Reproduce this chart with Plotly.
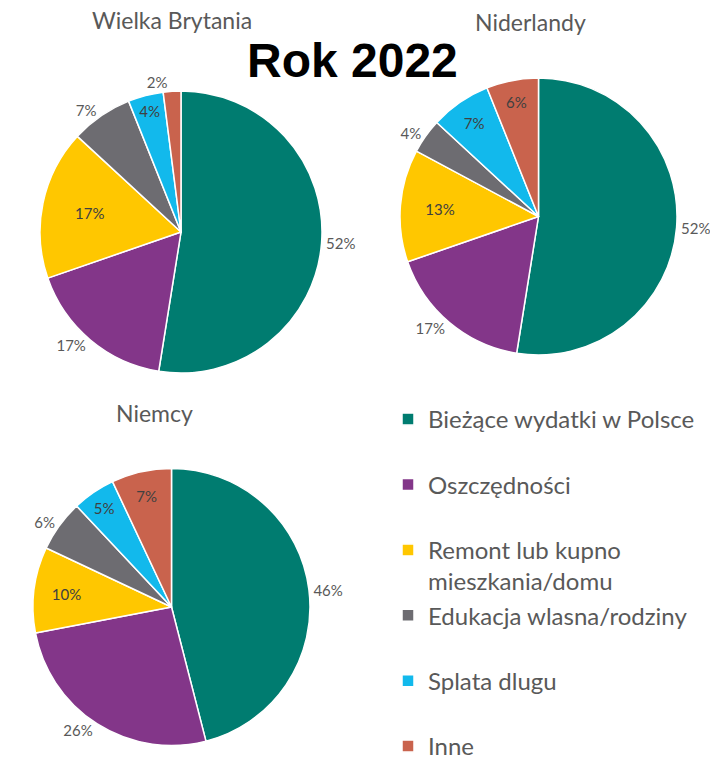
import plotly.graph_objects as go

categories = [
    "Bieżące wydatki w Polsce",
    "Oszczędności",
    "Remont lub kupno<br>mieszkania/domu",
    "Edukacja wlasna/rodziny",
    "Splata dlugu",
    "Inne",
]
colors = ["#007C70", "#833689", "#FFC700", "#6D6C71", "#12B9EC", "#C9634D"]

countries = ["Wielka Brytania", "Niderlandy", "Niemcy"]
values_wb = [52, 17, 17, 7, 4, 2]
values_nl = [52, 17, 13, 4, 7, 6]
values_de = [46, 26, 10, 6, 5, 7]

pos_wb = ["outside", "outside", "inside", "outside", "inside", "outside"]
pos_nl = ["outside", "outside", "inside", "outside", "inside", "inside"]
pos_de = ["outside", "outside", "inside", "outside", "inside", "inside"]

# legend labels: add blank line for spacing (except multi-line and last)
legend_labels = []
for i, c in enumerate(categories):
    if "<br>" in c or i == len(categories) - 1:
        legend_labels.append(c)
    else:
        legend_labels.append(c + "<br>\u00a0")

# domains in pixels (x0, x1, ytop, ybottom)
W, H = 710, 760
domains = [
    (40, 322, 91, 373),
    (400, 677, 78, 355),
    (33, 310, 468, 746),
]
title_pos = [(172, 20), (530, 22), (154, 413)]

fig = go.Figure()
for k, (vals, pos) in enumerate([(values_wb, pos_wb), (values_nl, pos_nl), (values_de, pos_de)]):
    x0, x1, yt, yb = domains[k]
    fig.add_trace(go.Pie(
        labels=legend_labels,
        values=vals,
        text=[f"{v}%" for v in vals],
        textinfo="text",
        textposition=pos,
        insidetextorientation="horizontal",
        sort=False,
        direction="clockwise",
        rotation=0,
        marker=dict(colors=colors, line=dict(color="white", width=1.5)),
        insidetextfont=dict(family="Lato", size=15, color="#404040"),
        outsidetextfont=dict(family="Lato", size=15, color="#595959"),
        domain=dict(x=[x0 / W, x1 / W], y=[1 - yb / H, 1 - yt / H]),
        showlegend=(k == 0),
        name=countries[k],
    ))
    tx, ty = title_pos[k]
    fig.add_annotation(
        x=tx / W, y=1 - ty / H, xref="paper", yref="paper",
        text=countries[k], showarrow=False,
        font=dict(family="Lato", size=23, color="#595959"),
        xanchor="center", yanchor="middle",
    )

fig.add_annotation(
    x=352 / W, y=1 - 60 / H, xref="paper", yref="paper",
    text="<b>Rok 2022</b>", showarrow=False,
    font=dict(family="Liberation Sans", size=48, color="black"),
    xanchor="center", yanchor="middle",
)

fig.update_layout(
    width=W, height=H,
    margin=dict(l=0, r=0, t=0, b=0, autoexpand=False),
    paper_bgcolor="white",
    plot_bgcolor="white",
    legend=dict(
        x=388 / W, y=1 - 397 / H, xanchor="left", yanchor="top",
        font=dict(family="Lato", size=24, color="#595959"),
        valign="top",
        bgcolor="rgba(0,0,0,0)",
    ),
)

fig.write_html(
    "out.html",
    config={"displayModeBar": False},
    post_script="document.body.style.margin='0';",
)
